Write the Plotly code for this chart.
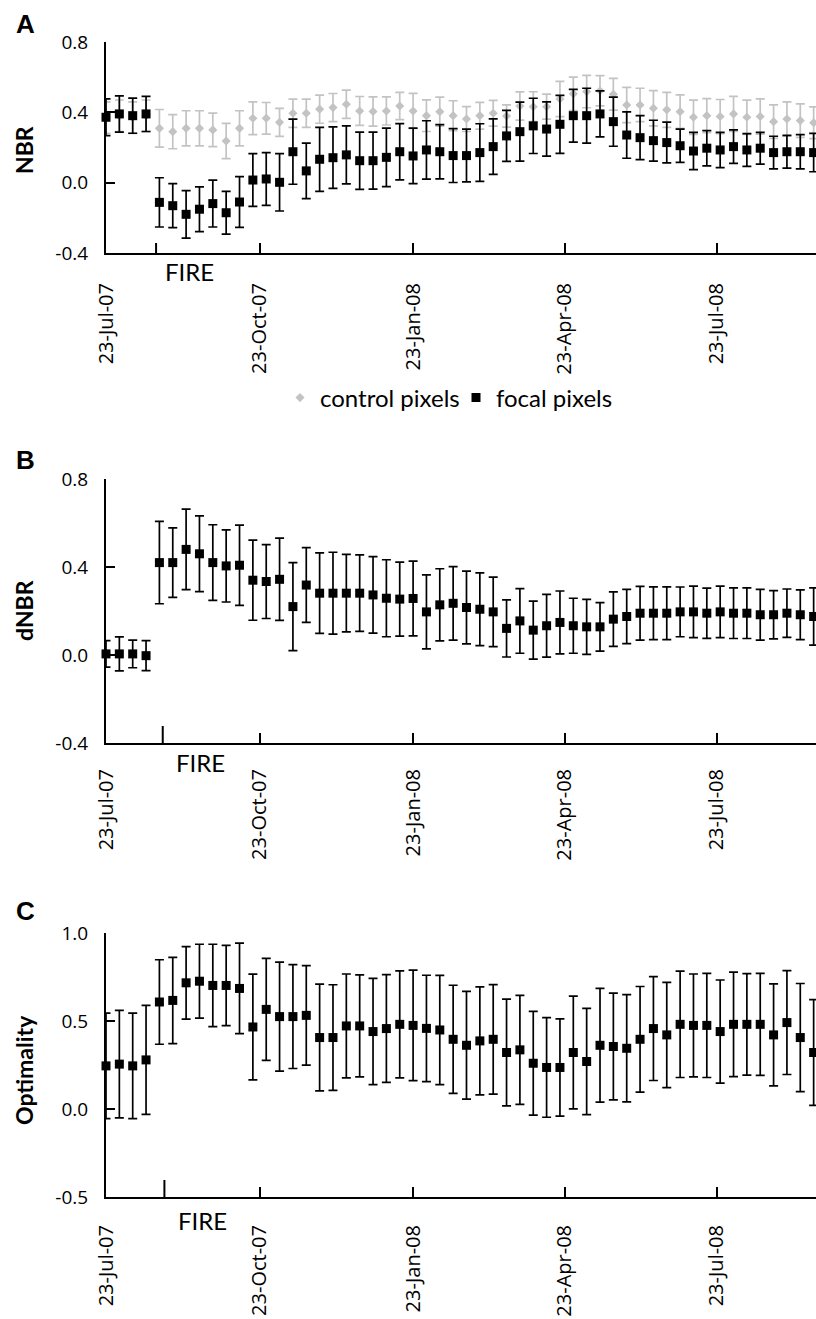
import plotly.graph_objects as go

# ---------------- data ----------------
dates = [
    "2007-07-23", "2007-07-31", "2007-08-08", "2007-08-16", "2007-08-24", "2007-09-01",
    "2007-09-09", "2007-09-17", "2007-09-25", "2007-10-03", "2007-10-11", "2007-10-19",
    "2007-10-27", "2007-11-04", "2007-11-12", "2007-11-20", "2007-11-28", "2007-12-06",
    "2007-12-14", "2007-12-22", "2007-12-30", "2008-01-07", "2008-01-15", "2008-01-23",
    "2008-01-31", "2008-02-08", "2008-02-16", "2008-02-24", "2008-03-03", "2008-03-11",
    "2008-03-19", "2008-03-27", "2008-04-04", "2008-04-12", "2008-04-20", "2008-04-28",
    "2008-05-06", "2008-05-14", "2008-05-22", "2008-05-30", "2008-06-07", "2008-06-15",
    "2008-06-23", "2008-07-01", "2008-07-09", "2008-07-17", "2008-07-25", "2008-08-02",
    "2008-08-10", "2008-08-18", "2008-08-26", "2008-09-03", "2008-09-11", "2008-09-19",
]

nbr_focal = [0.372, 0.391, 0.381, 0.391, -0.112, -0.131, -0.18, -0.151, -0.119, -0.171, -0.110,
             0.015, 0.021, 0.002, 0.176, 0.067, 0.133, 0.142, 0.158, 0.125, 0.125, 0.144, 0.176, 0.152,
             0.186, 0.176, 0.154, 0.154, 0.171, 0.205, 0.266, 0.29, 0.323, 0.305,
             0.332, 0.381, 0.381, 0.391, 0.347, 0.271, 0.256, 0.239, 0.228, 0.21,
             0.18, 0.196, 0.186, 0.205, 0.186, 0.196, 0.171, 0.176, 0.176, 0.171]
nbr_focal_err = [0.105, 0.103, 0.1, 0.1, 0.14, 0.125, 0.135, 0.127, 0.133, 0.122, 0.144,
                 0.15, 0.15, 0.163, 0.185, 0.158, 0.182, 0.175, 0.165, 0.163, 0.162, 0.166, 0.16, 0.158,
                 0.166, 0.154, 0.153, 0.15, 0.164, 0.158, 0.145, 0.168, 0.157, 0.154,
                 0.165, 0.15, 0.156, 0.131, 0.14, 0.132, 0.125, 0.116, 0.116, 0.095,
                 0.106, 0.1, 0.1, 0.095, 0.093, 0.09, 0.093, 0.093, 0.097, 0.109]

nbr_control = [0.37, 0.38, 0.37, 0.38, 0.309, 0.29, 0.309, 0.309, 0.3, 0.237, 0.309,
               0.366, 0.366, 0.343, 0.395, 0.395, 0.418, 0.427, 0.446, 0.408, 0.405, 0.408, 0.436, 0.408,
               0.381, 0.404, 0.381, 0.362, 0.381, 0.395, 0.379, 0.436, 0.432, 0.432,
               0.476, 0.505, 0.518, 0.523, 0.503, 0.442, 0.442, 0.423, 0.414, 0.404,
               0.372, 0.381, 0.376, 0.391, 0.372, 0.376, 0.347, 0.362, 0.353, 0.341]
nbr_control_err = [0.09, 0.09, 0.09, 0.09, 0.107, 0.097, 0.1, 0.1, 0.095, 0.1, 0.1,
                   0.093, 0.09, 0.08, 0.08, 0.08, 0.08, 0.08, 0.08, 0.082, 0.083, 0.08, 0.077, 0.1,
                   0.09, 0.083, 0.085, 0.071, 0.076, 0.073, 0.063, 0.08, 0.085, 0.071,
                   0.1, 0.095, 0.092, 0.086, 0.09, 0.1, 0.095, 0.1, 0.1, 0.095,
                   0.097, 0.097, 0.097, 0.1, 0.097, 0.1, 0.095, 0.097, 0.095, 0.09]

dnbr = [0.005, 0.005, 0.005, -0.003, 0.42, 0.42, 0.48, 0.46, 0.42, 0.405, 0.408,
        0.34, 0.334, 0.344, 0.22, 0.318, 0.281, 0.281, 0.281, 0.281, 0.273, 0.258, 0.254, 0.257,
        0.196, 0.228, 0.235, 0.216, 0.208, 0.196, 0.121, 0.155, 0.113, 0.133,
        0.148, 0.133, 0.128, 0.128, 0.163, 0.175, 0.19, 0.19, 0.19, 0.196,
        0.196, 0.19, 0.196, 0.19, 0.19, 0.183, 0.183, 0.19, 0.183, 0.175]
dnbr_err = [0.06, 0.077, 0.063, 0.068, 0.187, 0.158, 0.183, 0.172, 0.172, 0.164, 0.182,
            0.182, 0.168, 0.187, 0.2, 0.17, 0.183, 0.186, 0.176, 0.174, 0.174, 0.175, 0.168, 0.17,
            0.168, 0.164, 0.167, 0.165, 0.165, 0.158, 0.13, 0.147, 0.132, 0.143,
            0.143, 0.125, 0.125, 0.11, 0.124, 0.123, 0.122, 0.12, 0.12, 0.113,
            0.117, 0.114, 0.117, 0.115, 0.115, 0.115, 0.11, 0.11, 0.113, 0.13]

optimality = [0.245, 0.255, 0.245, 0.279, 0.608, 0.617, 0.717, 0.726, 0.702, 0.702, 0.685,
              0.466, 0.566, 0.525, 0.525, 0.532, 0.406, 0.406, 0.472, 0.472, 0.44, 0.457, 0.481, 0.475,
              0.458, 0.449, 0.396, 0.362, 0.387, 0.396, 0.321, 0.336, 0.26, 0.236,
              0.236, 0.321, 0.27, 0.362, 0.355, 0.345, 0.396, 0.457, 0.421, 0.481,
              0.475, 0.475, 0.44, 0.481, 0.481, 0.481, 0.421, 0.491, 0.406, 0.321]
optimality_err = [0.3, 0.305, 0.3, 0.31, 0.24, 0.245, 0.206, 0.21, 0.234, 0.228, 0.257,
                  0.3, 0.29, 0.31, 0.295, 0.283, 0.303, 0.3, 0.295, 0.29, 0.302, 0.306, 0.304, 0.314,
                  0.302, 0.31, 0.307, 0.306, 0.307, 0.311, 0.303, 0.31, 0.295, 0.283,
                  0.276, 0.32, 0.302, 0.323, 0.303, 0.305, 0.3, 0.295, 0.299, 0.302,
                  0.292, 0.296, 0.293, 0.297, 0.288, 0.29, 0.29, 0.295, 0.307, 0.3]

x_tickvals = ["2007-07-23", "2007-10-23", "2008-01-23", "2008-04-23", "2008-07-23"]
x_ticktext = ["23-Jul-07", "23-Oct-07", "23-Jan-08", "23-Apr-08", "23-Jul-08"]
y_ticks_ab = [-0.4, 0.0, 0.4, 0.8]
y_ticktext_ab = ["-0.4", "0.0", "0.4", "0.8"]
y_ticks_c = [-0.5, 0.0, 0.5, 1.0]
y_ticktext_c = ["-0.5", "0.0", "0.5", "1.0"]
fire_dates = ["2007-08-22", "2007-08-26", "2007-08-27"]

# ---------------- layout helpers ----------------
W, H = 816, 1319
ML = 106
PW = W - ML


def py(p):
    return 1 - p / H


def px_x(p):
    return (p - ML) / PW


GRAY = "#c3c3c3"
BLACK = "#000000"
TICKFONT = dict(family="Open Sans", size=19, color="black")
DATEFONT = dict(family="Open Sans", size=20, color="black")

fig = go.Figure()

sq = dict(symbol="square", size=9, color=BLACK)

fig.add_trace(go.Scatter(
    x=dates, y=nbr_control, mode="markers", name="control pixels",
    marker=dict(symbol="diamond", size=7, color=GRAY),
    error_y=dict(type="data", array=nbr_control_err, color=GRAY, thickness=1.7, width=4.5),
    xaxis="x", yaxis="y", cliponaxis=False, showlegend=True))
fig.add_trace(go.Scatter(
    x=dates, y=nbr_focal, mode="markers", name="focal pixels",
    marker=sq,
    error_y=dict(type="data", array=nbr_focal_err, color=BLACK, thickness=1.7, width=4.5),
    xaxis="x", yaxis="y", cliponaxis=False, showlegend=True))
fig.add_trace(go.Scatter(
    x=dates, y=dnbr, mode="markers", name="dNBR",
    marker=sq,
    error_y=dict(type="data", array=dnbr_err, color=BLACK, thickness=1.7, width=4.5),
    xaxis="x2", yaxis="y2", cliponaxis=False, showlegend=False))
fig.add_trace(go.Scatter(
    x=dates, y=optimality, mode="markers", name="Optimality",
    marker=sq,
    error_y=dict(type="data", array=optimality_err, color=BLACK, thickness=1.7, width=4.5),
    xaxis="x3", yaxis="y3", cliponaxis=False, showlegend=False))

xrange = ["2007-07-23", "2008-09-20 10:00"]


def xaxis(anchor, standoff):
    return dict(type="date", range=xrange, domain=[0, 1], anchor=anchor,
                tickvals=x_tickvals, ticktext=x_ticktext, tickangle=-90,
                ticks="inside", ticklen=10, tickwidth=2, tickcolor="black",
                showline=True, linewidth=2, linecolor="black",
                showgrid=False, zeroline=False, tickfont=DATEFONT,
                ticklabelstandoff=standoff, automargin=False)


def yaxis(anchor, dom, rng, tv, tt):
    return dict(range=rng, domain=dom, anchor=anchor, tickvals=tv, ticktext=tt,
                ticks="inside", ticklen=9, tickwidth=2, tickcolor="black",
                showline=True, linewidth=2, linecolor="black",
                showgrid=False, zeroline=False, tickfont=TICKFONT,
                ticklabelstandoff=12, automargin=False)


dA = [py(253), py(42)]
dB = [py(743), py(479)]
dC = [py(1197), py(933)]

fig.update_layout(
    width=W, height=H,
    margin=dict(l=ML, r=0, t=0, b=0, autoexpand=False),
    paper_bgcolor="white", plot_bgcolor="white",
    xaxis=xaxis("y", 20),
    xaxis2=xaxis("y2", 16),
    xaxis3=xaxis("y3", 18),
    yaxis=yaxis("x", dA, [-0.4, 0.8], y_ticks_ab, y_ticktext_ab),
    yaxis2=yaxis("x2", dB, [-0.4, 0.8], y_ticks_ab, y_ticktext_ab),
    yaxis3=yaxis("x3", dC, [-0.5, 1.0], y_ticks_c, y_ticktext_c),
    legend=dict(orientation="h", x=px_x(280), xanchor="left", y=py(398), yanchor="middle",
                font=dict(family="Lato", size=24, color="black"), bgcolor="rgba(0,0,0,0)",
                itemwidth=30, entrywidth=131, entrywidthmode="pixels"),
    showlegend=True,
)

annotations = []
# panel letters
for letter, ypx in [("A", 24), ("B", 460), ("C", 911)]:
    annotations.append(dict(text="<b>%s</b>" % letter, xref="paper", yref="paper", x=px_x(25), y=py(ypx),
                            showarrow=False, xanchor="center", yanchor="middle",
                            font=dict(family="Liberation Sans", size=26, color="black")))
# y titles
for title, ypx in [("NBR", 150), ("dNBR", 611), ("Optimality", 1070)]:
    annotations.append(dict(text="<b>%s</b>" % title, xref="paper", yref="paper", x=px_x(24), y=py(ypx),
                            showarrow=False, xanchor="center", yanchor="middle", textangle=-90,
                            font=dict(family="Lato", size=23, color="black")))
# FIRE labels
for xp, ypx in [(189.5, 271.5), (200, 762), (202, 1220)]:
    annotations.append(dict(text="FIRE", xref="paper", yref="paper", x=px_x(xp), y=py(ypx),
                            showarrow=False, xanchor="center", yanchor="middle",
                            font=dict(family="Lato", size=24, color="black")))
fig.update_layout(annotations=annotations)

# FIRE tick marks
shapes = []
for xr, yr, d, frac in [("x", "y domain", fire_dates[0], 10 / 211),
                        ("x2", "y2 domain", fire_dates[1], 17 / 264),
                        ("x3", "y3 domain", fire_dates[2], 17 / 264)]:
    shapes.append(dict(type="line", xref=xr, yref=yr, x0=d, x1=d, y0=0, y1=frac,
                       line=dict(color="black", width=2)))
fig.update_layout(shapes=shapes)

fig.write_html("out.html")
